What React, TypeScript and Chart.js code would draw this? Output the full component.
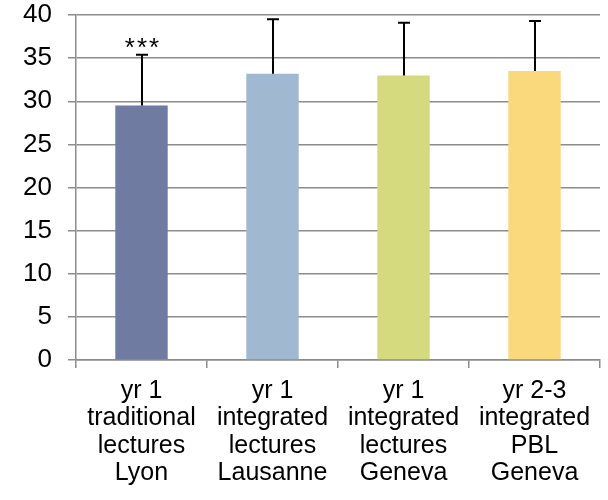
import React, { useEffect, useRef } from "react";
import { Chart, registerables } from "chart.js";

Chart.register(...registerables);

const categories: string[][] = [
  ["yr 1", "traditional", "lectures", "Lyon"],
  ["yr 1", "integrated", "lectures", "Lausanne"],
  ["yr 1", "integrated", "lectures", "Geneva"],
  ["yr 2-3", "integrated", "PBL", "Geneva"],
];
const means = [29.5, 33.2, 33.0, 33.5];
const errorTops = [35.4, 39.5, 39.1, 39.3];
const significance = ["***", "", "", ""];
const barColors = ["#6F7BA1", "#A0B8D0", "#D4DA7D", "#FAD87C"];

const FONT = "'Liberation Sans', Arial, sans-serif";

const errorBarPlugin = {
  id: "errorBars",
  afterDatasetsDraw(chart: any) {
    const ctx = chart.ctx;
    const x = chart.scales.x;
    const y = chart.scales.y;
    ctx.save();
    ctx.strokeStyle = "#000";
    ctx.lineWidth = 2;
    means.forEach((m, i) => {
      const cx = Math.round(x.getPixelForValue(i));
      const y0 = y.getPixelForValue(m);
      const y1 = y.getPixelForValue(errorTops[i]);
      ctx.beginPath();
      ctx.moveTo(cx, y0);
      ctx.lineTo(cx, y1);
      ctx.moveTo(cx - 6, y1);
      ctx.lineTo(cx + 6, y1);
      ctx.stroke();
      if (significance[i]) {
        ctx.fillStyle = "#000";
        ctx.font = "26px " + FONT;
        try {
          (ctx as any).letterSpacing = "2px";
        } catch (e) {}
        ctx.textAlign = "center";
        ctx.textBaseline = "alphabetic";
        ctx.fillText(significance[i], cx + 1, y1 + 1);
      }
    });
    ctx.restore();
  },
};

export default function App() {
  const ref = useRef<HTMLCanvasElement>(null);
  useEffect(() => {
    const chart = new Chart(ref.current!, {
      type: "bar",
      data: {
        labels: categories,
        datasets: [
          {
            data: means,
            backgroundColor: barColors,
            borderWidth: 0,
            categoryPercentage: 1,
            barPercentage: 0.4,
          },
        ],
      },
      options: {
        animation: false,
        responsive: false,
        layout: { padding: { top: 15, right: 8, left: 0, bottom: 0 } },
        plugins: { legend: { display: false }, tooltip: { enabled: false } },
        scales: {
          x: {
            grid: {
              display: true,
              drawOnChartArea: false,
              drawTicks: true,
              tickLength: 8,
              color: "#8C8C8C",
              lineWidth: 1.5,
            },
            border: { color: "#8C8C8C", width: 1.5 },
            ticks: {
              color: "#000",
              font: { family: FONT, size: 25, lineHeight: 1.1 },
              padding: 9,
              maxRotation: 0,
              autoSkip: false,
            },
            afterFit(scale: any) {
              scale.height = 140;
              scale.paddingLeft = 0;
              scale.paddingRight = 0;
            },
          },
          y: {
            min: 0,
            max: 40,
            grid: {
              color: "#8C8C8C",
              lineWidth: 1.5,
              tickLength: 8,
            },
            border: { color: "#8C8C8C", width: 1.5 },
            ticks: {
              stepSize: 5,
              color: "#000",
              font: { family: FONT, size: 26 },
              padding: 16,
            },
            afterFit(scale: any) {
              scale.width = 76;
              scale.paddingTop = 0;
              scale.paddingBottom = 0;
            },
          },
        },
      },
      plugins: [errorBarPlugin],
    });
    return () => chart.destroy();
  }, []);
  return (
    <div style={{ position: "fixed", left: 0, top: 0, width: 608, height: 500, background: "#fff" }}>
      <canvas ref={ref} width={608} height={500} />
    </div>
  );
}
